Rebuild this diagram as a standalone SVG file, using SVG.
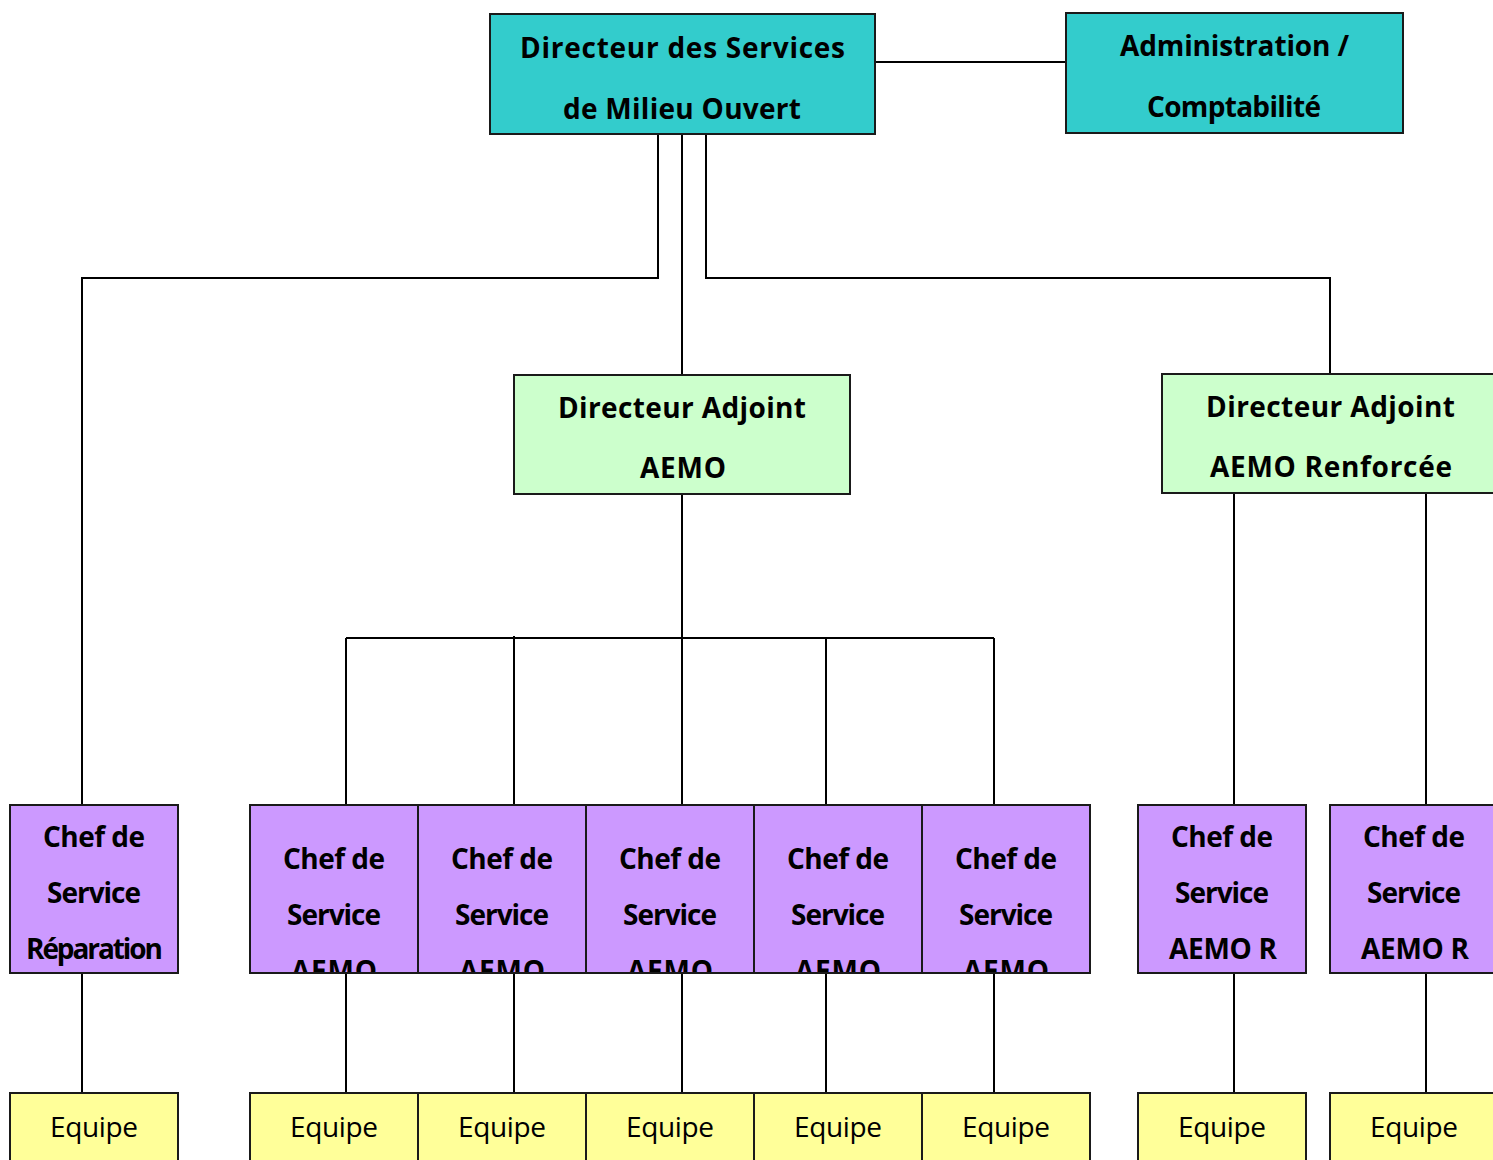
<svg xmlns="http://www.w3.org/2000/svg" width="1493" height="1160" viewBox="0 0 1493 1160">
<style>
.box{stroke:#1a1a1a;stroke-width:2}
.top{fill:#33CCCC}
.da{fill:#CCFFCC}
.cs{fill:#CC99FF}
.eq{fill:#FFFF99}
.t{font-family:"Open Sans","DejaVu Sans",sans-serif;font-weight:bold;font-size:28px;fill:#000;text-anchor:middle}
.n{font-family:"Open Sans","DejaVu Sans",sans-serif;font-weight:normal;font-size:28px;fill:#000;text-anchor:middle}
.c{fill:none;stroke:#000;stroke-width:2}
</style>
<defs>
<clipPath id="row"><rect x="0" y="0" width="1493" height="972"/></clipPath>
</defs>
<rect width="1493" height="1160" fill="#fff"/>
<g id="connectors" class="c">
<path d="M875 62H1066"/>
<path d="M658 134V278H82V805"/>
<path d="M682 134V375"/>
<path d="M706 134V278H1330V374"/>
<path d="M682 494V638"/>
<path d="M346 638H994"/>
<path d="M346 638V805M514 636V805M682 638V805M826 638V805M994 638V805"/>
<path d="M1234 493V805M1426 493V805"/>
<path d="M82 973V1093M346 973V1093M514 973V1093M682 973V1093M826 973V1093M994 973V1093M1234 973V1093M1426 973V1093"/>
</g>
<g id="directeur">
<rect class="box top" x="490" y="14" width="385" height="120"/>
<text class="t" x="682.5" y="58" textLength="325">Directeur des Services</text>
<text class="t" x="682" y="119" textLength="238">de Milieu Ouvert</text>
</g>
<g id="administration">
<rect class="box top" x="1066" y="13" width="337" height="120"/>
<text class="t" x="1234.5" y="56" textLength="229">Administration /</text>
<text class="t" x="1234" y="117" textLength="174">Comptabilité</text>
</g>
<g id="da-aemo">
<rect class="box da" x="514" y="375" width="336" height="119"/>
<text class="t" x="682" y="418" textLength="248">Directeur Adjoint</text>
<text class="t" x="683" y="478" textLength="86">AEMO</text>
</g>
<g id="da-aemo-r">
<rect class="box da" x="1162" y="374" width="340" height="119"/>
<text class="t" x="1330.5" y="417" textLength="249">Directeur Adjoint</text>
<text class="t" x="1331" y="477" textLength="242">AEMO Renforcée</text>
</g>
<g id="cs-reparation">
<rect class="box cs" x="10" y="805" width="168" height="168"/>
<text class="t" x="94" y="847" textLength="102">Chef de</text>
<text class="t" x="94" y="903" textLength="94">Service</text>
<text class="t" x="94.5" y="959" textLength="137">Réparation</text>
</g>
<g id="cs-aemo-1">
<rect class="box cs" x="250" y="805" width="168" height="168"/>
<g clip-path="url(#row)">
<text class="t" x="334" y="869" textLength="102">Chef de</text>
<text class="t" x="334" y="925" textLength="94">Service</text>
<text class="t" x="334" y="981" textLength="86">AEMO</text>
</g>
</g>
<g id="cs-aemo-2">
<rect class="box cs" x="418" y="805" width="168" height="168"/>
<g clip-path="url(#row)">
<text class="t" x="502" y="869" textLength="102">Chef de</text>
<text class="t" x="502" y="925" textLength="94">Service</text>
<text class="t" x="502" y="981" textLength="86">AEMO</text>
</g>
</g>
<g id="cs-aemo-3">
<rect class="box cs" x="586" y="805" width="168" height="168"/>
<g clip-path="url(#row)">
<text class="t" x="670" y="869" textLength="102">Chef de</text>
<text class="t" x="670" y="925" textLength="94">Service</text>
<text class="t" x="670" y="981" textLength="86">AEMO</text>
</g>
</g>
<g id="cs-aemo-4">
<rect class="box cs" x="754" y="805" width="168" height="168"/>
<g clip-path="url(#row)">
<text class="t" x="838" y="869" textLength="102">Chef de</text>
<text class="t" x="838" y="925" textLength="94">Service</text>
<text class="t" x="838" y="981" textLength="86">AEMO</text>
</g>
</g>
<g id="cs-aemo-5">
<rect class="box cs" x="922" y="805" width="168" height="168"/>
<g clip-path="url(#row)">
<text class="t" x="1006" y="869" textLength="102">Chef de</text>
<text class="t" x="1006" y="925" textLength="94">Service</text>
<text class="t" x="1006" y="981" textLength="86">AEMO</text>
</g>
</g>
<g id="cs-aemo-r-1">
<rect class="box cs" x="1138" y="805" width="168" height="168"/>
<text class="t" x="1222" y="847" textLength="102">Chef de</text>
<text class="t" x="1222" y="903" textLength="94">Service</text>
<text class="t" x="1223" y="959" textLength="108">AEMO R</text>
</g>
<g id="cs-aemo-r-2">
<rect class="box cs" x="1330" y="805" width="168" height="168"/>
<text class="t" x="1414" y="847" textLength="102">Chef de</text>
<text class="t" x="1414" y="903" textLength="94">Service</text>
<text class="t" x="1415" y="959" textLength="108">AEMO R</text>
</g>
<g id="equipe-1"><rect class="box eq" x="10" y="1093" width="168" height="80"/><text class="n" x="94" y="1137" textLength="88">Equipe</text></g>
<g id="equipe-2"><rect class="box eq" x="250" y="1093" width="168" height="80"/><text class="n" x="334" y="1137" textLength="88">Equipe</text></g>
<g id="equipe-3"><rect class="box eq" x="418" y="1093" width="168" height="80"/><text class="n" x="502" y="1137" textLength="88">Equipe</text></g>
<g id="equipe-4"><rect class="box eq" x="586" y="1093" width="168" height="80"/><text class="n" x="670" y="1137" textLength="88">Equipe</text></g>
<g id="equipe-5"><rect class="box eq" x="754" y="1093" width="168" height="80"/><text class="n" x="838" y="1137" textLength="88">Equipe</text></g>
<g id="equipe-6"><rect class="box eq" x="922" y="1093" width="168" height="80"/><text class="n" x="1006" y="1137" textLength="88">Equipe</text></g>
<g id="equipe-7"><rect class="box eq" x="1138" y="1093" width="168" height="80"/><text class="n" x="1222" y="1137" textLength="88">Equipe</text></g>
<g id="equipe-8"><rect class="box eq" x="1330" y="1093" width="168" height="80"/><text class="n" x="1414" y="1137" textLength="88">Equipe</text></g>
</svg>
